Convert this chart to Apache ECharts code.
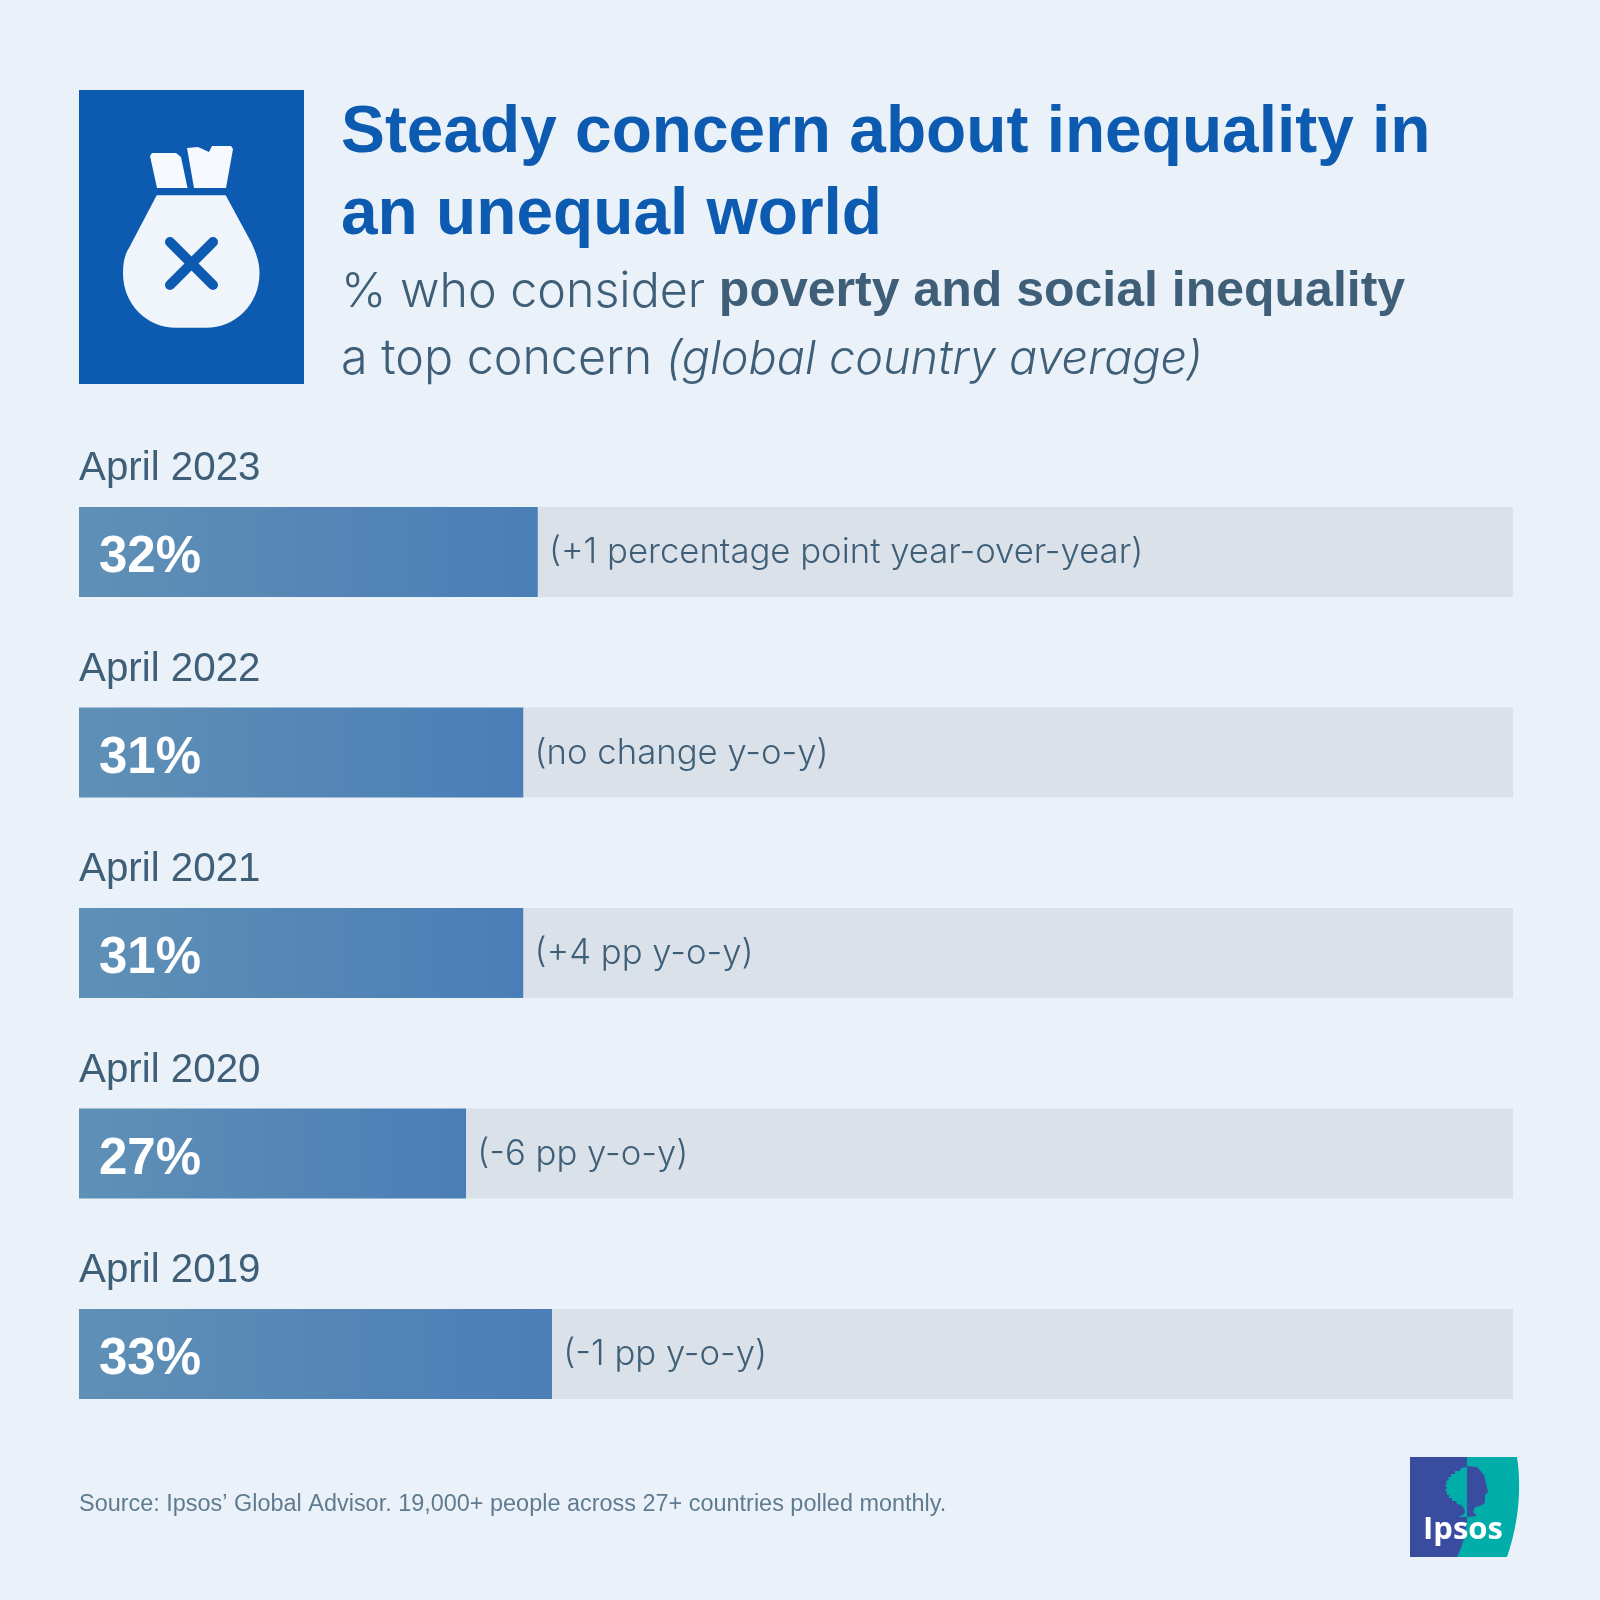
<!DOCTYPE html>
<html><head><meta charset="utf-8">
<style>html,body{margin:0;padding:0;background:#EAF1F9}#c{width:1600px;height:1600px}</style>
<script src="https://cdn.jsdelivr.net/npm/echarts@6/dist/echarts.min.js"></script>
</head><body><div id="c"></div>
<script>
const periods = ['April 2023','April 2022','April 2021','April 2020','April 2019'];
const shares = [32,31,31,27,33];
const notes = ['(+1 percentage point year-over-year)','(no change y-o-y)','(+4 pp y-o-y)','(-6 pp y-o-y)','(-1 pp y-o-y)'];
const scaleMax = 100;
const titleText = 'Steady concern about inequality in\nan unequal world';
const sourceText = 'Source: Ipsos\u2019 Global Advisor. 19,000+ people across 27+ countries polled monthly.';

const FONT = '"Liberation Sans", Arial, sans-serif';
const LIGHT = 'Inter, "Liberation Sans", sans-serif';
const INK = '#3F5F78', BLUE = '#0C5BB0', BG = '#EAF1F9', INDIGO = '#3A4CA0', TEAL = '#00ADA8';

function curve(p0,p1,p2,p3,n){const o=[];for(let i=1;i<=n;i++){const t=i/n,u=1-t;
  o.push([u*u*u*p0[0]+3*u*u*t*p1[0]+3*u*t*t*p2[0]+t*t*t*p3[0],u*u*u*p0[1]+3*u*u*t*p1[1]+3*u*t*t*p2[1]+t*t*t*p3[1]]);}return o;}
const bagBody=[[156.7,195.3],[225.7,195.3],[251.7,243.3]]
  .concat(curve([251.7,243.3],[256,253],[259.5,262],[259.5,273],8),
          curve([259.5,273],[259.5,305],[235,327.7],[206,327.7],16),
          [[176,327.7]],
          curve([176,327.7],[147,327.7],[123,305],[123,273],16),
          curve([123,273],[123,262],[125,254],[129,248],8));
const teal=[[1467,1457],[1517,1457]]
  .concat(curve([1517,1457],[1522,1490],[1518,1525],[1507,1557],14),
          [[1457,1557]],curve([1457,1557],[1463,1545],[1467,1530],[1467,1517],8));
const head=[[1467,1466],[1477,1467],[1484,1475],[1486,1483],[1488,1492],[1485,1495],[1485,1503],[1480,1506],[1475,1507],[1473,1512],[1477,1516],[1467,1517]];
const tree=[[1467,1467],[1461,1468],[1460,1471],[1455,1471],[1455,1474],[1451,1474],[1451,1477],[1448,1477],[1449,1480],[1446,1481],[1447,1484],[1445,1485],[1447,1488],[1445,1490],[1447,1492],[1447,1495],[1449,1495],[1449,1498],[1452,1498],[1452,1501],[1456,1501],[1457,1504],[1461,1505],[1464,1508],[1465,1512],[1463,1515],[1458,1517],[1467,1517]];

const option={
  backgroundColor:BG,
  animation:false,
  title:[
    {text:titleText,left:341,top:93,padding:0,textStyle:{fontFamily:FONT,fontWeight:'bold',fontSize:65.8,lineHeight:82,color:BLUE}},
    {text:'{a|% who consider }{b|poverty and social inequality}\n{a|a top concern }{c|(global country average)}',left:341,top:259,padding:0,
     textStyle:{fontWeight:'normal',rich:{
       a:{fontFamily:LIGHT,fontWeight:300,fontSize:48.4,lineHeight:67,color:INK},
       b:{fontFamily:FONT,fontSize:50,lineHeight:67,color:INK,fontWeight:'bold'},
       c:{fontFamily:LIGHT,fontWeight:300,fontSize:46.8,lineHeight:67,color:INK,fontStyle:'italic'}}}},
    {text:sourceText,left:79,top:1493,padding:0,textStyle:{fontFamily:FONT,fontWeight:'normal',fontSize:23.45,color:'#5F7B90'}}
  ],
  grid:{left:79,width:1434,top:451.75,height:1002.5,containLabel:false},
  xAxis:{type:'value',min:0,max:scaleMax,show:false},
  yAxis:{type:'category',inverse:true,data:periods,axisLine:{show:false},axisTick:{show:false},
    axisLabel:{inside:true,margin:0,align:'left',verticalAlign:'bottom',padding:[0,0,63,0],fontFamily:FONT,fontSize:40.3,color:INK}},
  series:[
    {type:'bar',stack:'t',barWidth:90,data:shares,
     itemStyle:{color:new echarts.graphic.LinearGradient(0,0,1,0,[{offset:0,color:'#5F90B6'},{offset:1,color:'#4A7EB6'}])},
     label:{show:true,position:'insideLeft',distance:20,offset:[0,6],formatter:'{c}%',fontFamily:FONT,fontWeight:'bold',fontSize:51,color:'#fff'}},
    {type:'bar',stack:'t',barWidth:90,data:shares.map(v=>scaleMax-v),
     itemStyle:{color:'#DAE1E9'},
     label:{show:true,position:'insideLeft',distance:11,offset:[0,1],formatter:p=>notes[p.dataIndex],fontFamily:LIGHT,fontWeight:300,fontSize:34.7,color:INK}}
  ],
  graphic:[
    {type:'rect',shape:{x:79,y:90,width:225,height:294},style:{fill:BLUE}},
    {type:'polygon',shape:{points:bagBody},style:{fill:'#F0F5FC'}},
    {type:'polygon',shape:{points:[[150,156],[152,153],[176,153],[181,157],[187.5,188],[157,188]]},style:{fill:'#F6FAFE'}},
    {type:'polygon',shape:{points:[[187,148],[198,147],[209,152],[212,146],[231,146],[233,149],[226,188],[194,188]]},style:{fill:'#F6FAFE'}},
    {type:'line',shape:{x1:170,y1:242,x2:213,y2:285},style:{stroke:BLUE,lineWidth:10,lineCap:'round'}},
    {type:'line',shape:{x1:213,y1:242,x2:170,y2:285},style:{stroke:BLUE,lineWidth:10,lineCap:'round'}},
    {type:'rect',shape:{x:1410,y:1457,width:70,height:100},style:{fill:INDIGO}},
    {type:'polygon',shape:{points:teal},style:{fill:TEAL}},
    {type:'polygon',shape:{points:head},style:{fill:INDIGO}},
    {type:'polygon',shape:{points:tree},style:{fill:TEAL}},
    {type:'text',x:1423,y:1515,style:{text:'Ipsos',fontFamily:'"Open Sans"',fontWeight:700,fontSize:31,fill:'#fff'}}
  ]
};
echarts.init(document.getElementById('c'),null,{renderer:'canvas'}).setOption(option);
</script></body></html>
